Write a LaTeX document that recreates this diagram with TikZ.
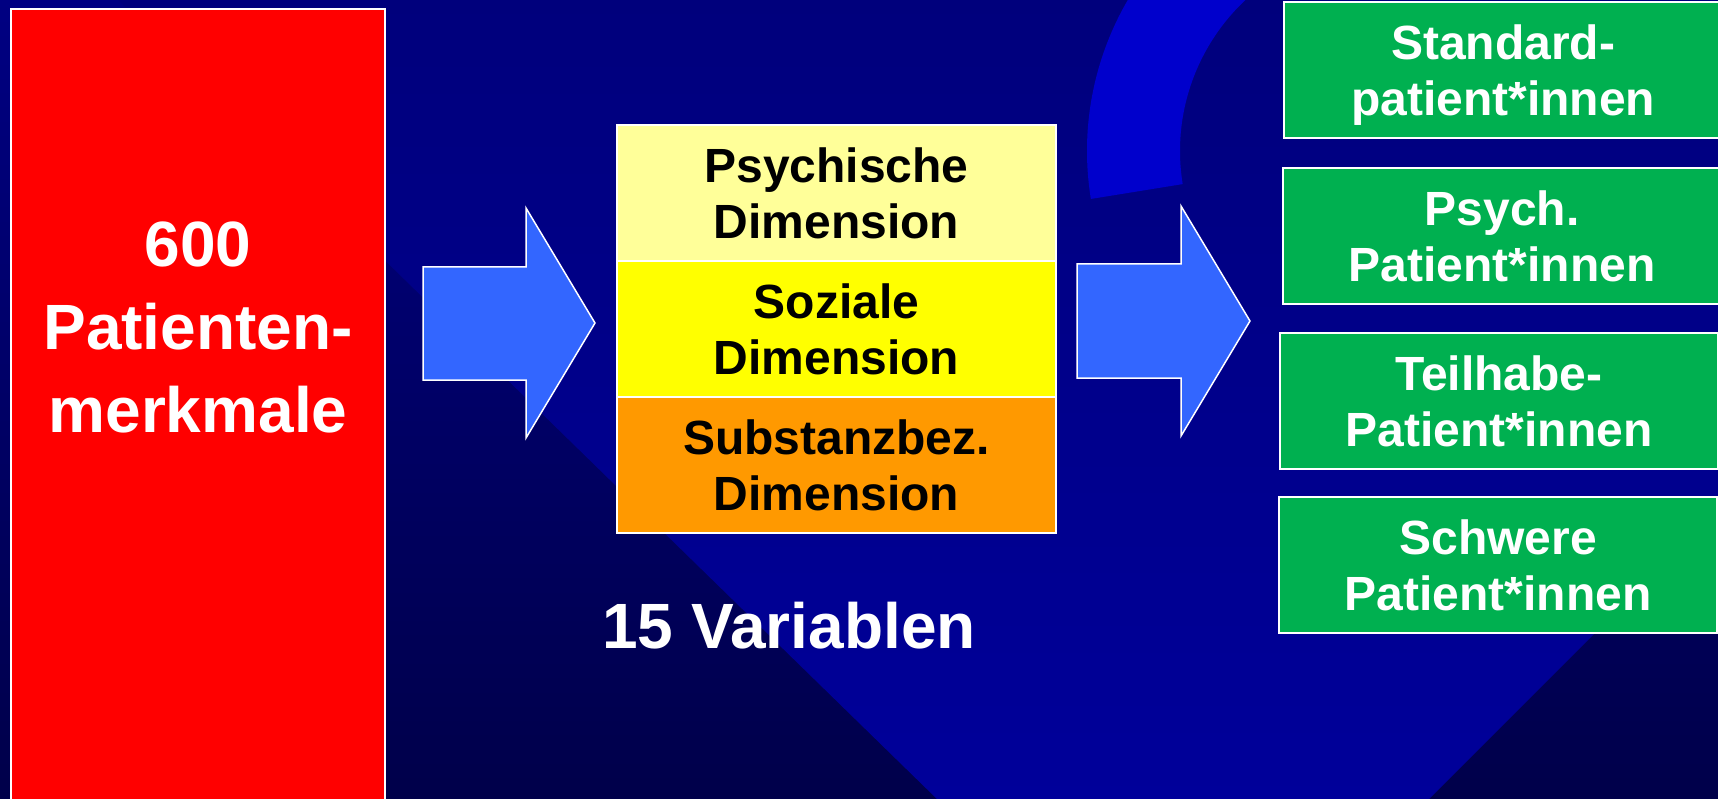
\documentclass[tikz,border=0pt]{standalone}
\usepackage{fontspec}
\setmainfont{Liberation Sans}
\definecolor{bgtop}{HTML}{000082}
\definecolor{bgbot}{HTML}{00004A}
\definecolor{vtop}{HTML}{00007C}
\definecolor{vbot}{HTML}{00009A}
\definecolor{arcblue}{HTML}{0000CC}
\definecolor{arrowblue}{HTML}{3366FF}
\definecolor{lightyel}{HTML}{FFFF99}
\definecolor{yel}{HTML}{FFFF00}
\definecolor{orng}{HTML}{FF9900}
\definecolor{boxgreen}{HTML}{00B050}
\newcommand{\midfnt}{\fontsize{48}{56}\selectfont\bfseries}
\newcommand{\bigfnt}{\fontsize{64}{83}\selectfont\bfseries}
\begin{document}
\begin{tikzpicture}[x=1pt,y=-1pt,
  frame/.style={draw=white, line width=1.5pt, inner sep=0pt, outer sep=0pt},
  sect/.style={frame, anchor=north west, minimum width=439pt, minimum height=136pt,
    align=center, text depth=0pt, font=\midfnt, text=black},
  gbox/.style={frame, fill=boxgreen, anchor=north west, minimum width=438pt,
    minimum height=136pt, align=center, text depth=0pt, font=\midfnt, text=white},
  big/.style={font=\bigfnt, text=white, align=center, inner sep=0pt},
  barrow/.style={fill=arrowblue, draw=white, line width=1.5pt, line join=miter}]
\useasboundingbox (0,0) rectangle (1718,799);
\clip (0,0) rectangle (1718,799);
% background
\shade[top color=bgtop, bottom color=bgbot] (0,0) rectangle (1718,799);
\shade[top color=vtop, bottom color=vbot]
  (118,0) -- (937,799) -- (1429,799) -- (1718,510) -- (1718,0) -- cycle;
% swoosh arc
\coordinate (c) at (1387,151);
\fill[arcblue] ([shift={(170.8:207)}]c) -- ([shift={(170.8:300)}]c)
  arc[start angle=170.8, end angle=250, radius=300]
  -- ([shift={(250:207)}]c)
  arc[start angle=250, end angle=170.8, radius=207] -- cycle;
% red box
\node (red) [frame, fill=red, anchor=north west, minimum width=374pt, minimum height=820pt] at (11,9) {};
\node (redtxt) [big] at (198,327) {600\\Patienten-\\merkmale};
% arrows
\draw[barrow] (423,267) -- (526,267) -- (526,208) -- (595,323) -- (526,438) -- (526,380) -- (423,380) -- cycle;
\draw[barrow] (1077,264) -- (1181,264) -- (1181,206) -- (1250,321) -- (1181,436) -- (1181,378) -- (1077,378) -- cycle;
% middle stack
\node (psy) [sect, fill=lightyel] at (617,125) {Psychische\\Dimension};
\node (soz) [sect, fill=yel] at (617,261) {Soziale\\Dimension};
\node (sub) [sect, fill=orng] at (617,397) {Substanzbez.\\Dimension};
\node (var) [big, anchor=base] at (789,648) {15 Variablen};
% green boxes
\node (g1) [gbox] at (1284,2) {Standard-\\patient*innen};
\node (g2) [gbox] at (1283,168) {Psych.\\Patient*innen};
\node (g3) [gbox] at (1280,333) {Teilhabe-\\Patient*innen};
\node (g4) [gbox] at (1279,497) {Schwere\\Patient*innen};
\end{tikzpicture}
\end{document}
